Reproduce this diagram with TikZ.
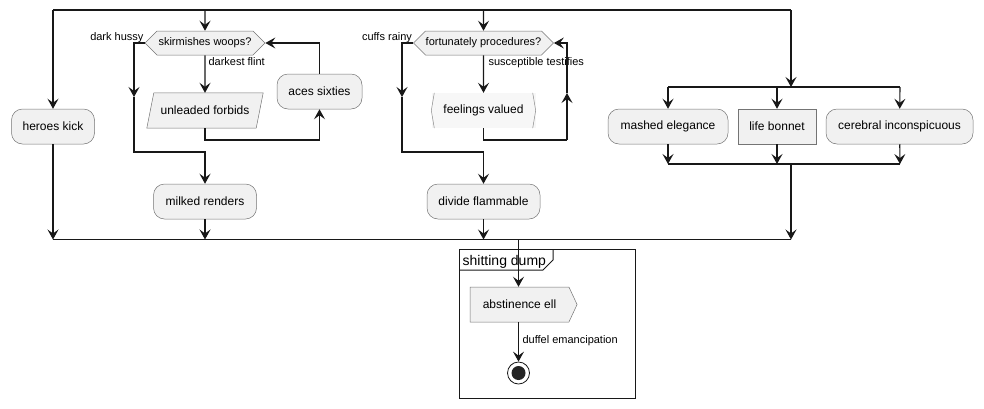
\documentclass[tikz,border=0pt]{standalone}
\usepackage{fontspec}
\setmainfont{Liberation Sans}
\usetikzlibrary{positioning}
\usetikzlibrary{arrows.meta}
\usetikzlibrary{shapes.symbols, backgrounds}
\definecolor{boxfill}{HTML}{F1F1F1}
\definecolor{boxline}{HTML}{181818}
\tikzset {
  % activity boxes
  act/.style = {draw=boxline!60, fill=boxfill, line width=0.5pt, rounded corners=11pt,
    minimum height=35pt, inner sep=0pt, font=\fontsize{12}{14}\selectfont},
  plain/.style = {act, rounded corners=0pt},
  % outline of shapes drawn by hand
  outline/.style = {draw=boxline!60, fill=boxfill, line width=0.5pt},
  % decision hexagons
  choice/.style = {signal, signal to=west and east, signal pointer angle=90, draw=boxline!60,
    fill=boxfill, line width=0.5pt, minimum height=24pt, inner sep=0pt, font=\fontsize{11}{13}\selectfont},
  % connectors and bars
  flow/.style = {draw=boxline, line width=1.1pt, -{Stealth[length=10pt,width=11pt,inset=4pt]}},
  wire/.style = {draw=boxline, line width=1.1pt},
  bar/.style = {draw=boxline, line width=1.4pt},
  lab/.style = {font=\fontsize{11}{13}\selectfont, inner sep=0pt},
  % final node
  stopnode/.style = {circle, draw=boxline, line width=0.8pt, fill=white, minimum size=22pt, inner sep=0pt,
    path picture={\fill[boxline!95] (path picture bounding box.center) circle (7pt);}},
}
\begin{document}
\begin{tikzpicture}[x=1pt, y=-1pt]
  \useasboundingbox (0,0) rectangle (984,408);

  % split and merge bars
  \coordinate (t1) at (53,10);
  \coordinate (t2) at (205,10);
  \coordinate (t3) at (483.5,10);
  \coordinate (t4) at (791,10);
  \coordinate (b1) at (53,239.5);
  \coordinate (b2) at (205,239.5);
  \coordinate (b3) at (483.5,239.5);
  \coordinate (b4) at (791,239.5);
  \coordinate (b5) at (518.5,239.5);
  \draw[bar] (t1) -- (t4);
  \draw[bar] (b1) -- (b4);

  % first branch
  \node[act, minimum width=83pt] (heroes) at (53,126.5) {heroes kick};
  \draw[flow] (t1) -- (heroes);
  \draw[flow] (heroes) -- (b1);

  % second branch
  \node[choice, minimum width=120pt] (skirm) at (205,43) {skirmishes woops?};
  \node[lab, anchor=base east] at ([xshift=-1pt, yshift=2.5pt]skirm.west) {dark hussy};
  \node[minimum width=116pt, minimum height=35pt, inner sep=0pt,
    font=\fontsize{12}{14}\selectfont] (unlead) at (205,110.5) {unleaded forbids};
  \begin{pgfonlayer}{background}
    \draw[outline] ([xshift=7pt]unlead.north west) -- (unlead.north east)
      -- ([xshift=-7pt]unlead.south east) -- (unlead.south west) -- cycle;
  \end{pgfonlayer}
  \node[act, minimum width=85pt] (aces) at (319.5,91.5) {aces sixties};
  \node[act, minimum width=103pt] (milked) at (205,201.5) {milked renders};
  \coordinate (lp1) at (319.5,140);
  \coordinate (el1) at (134,97);
  \coordinate (el2) at (134,152);

  \draw[flow] (t2) -- (skirm);
  \draw[flow] (skirm) -- node[lab, pos=0, anchor=base west, xshift=3pt, yshift=-10.5pt] {darkest flint} (unlead);
  \draw[wire] (unlead) |- (lp1);
  \draw[flow] (lp1) -- (aces);
  \draw[flow] (aces) |- (skirm);
  \draw[flow] (skirm) -| (el1);
  \draw[flow] (el1) -- (el2) -| (milked);
  \draw[flow] (milked) -- (b2);

  % third branch
  \node[choice, minimum width=140pt] (fortun) at (483.5,43) {fortunately procedures?};
  \node[lab, anchor=base east] at ([xshift=-1pt, yshift=2.5pt]fortun.west) {cuffs rainy};
  \node[fill=boxfill!60, minimum width=104pt, minimum height=35pt, inner sep=0pt,
    font=\fontsize{12}{14}\selectfont] (feel) at (483.5,110.5) {feelings valued};
  \draw[boxline!50, line width=0.5pt] ([xshift=3pt]feel.north west) -- (feel.west) -- ([xshift=3pt]feel.south west);
  \draw[boxline!50, line width=0.5pt] ([xshift=-3pt]feel.north east) -- (feel.east) -- ([xshift=-3pt]feel.south east);
  \node[act, minimum width=113pt] (divide) at (483.5,201.5) {divide flammable};
  \coordinate (lp2) at (567,140);
  \coordinate (lp3) at (567,93);
  \coordinate (el3) at (402,97);
  \coordinate (el4) at (402,152);

  \draw[flow] (t3) -- (fortun);
  \draw[flow] (fortun) -- node[lab, pos=0, anchor=base west, xshift=4.5pt, yshift=-10.5pt] {susceptible testifies} (feel);
  \draw[wire] (feel) |- (lp2);
  \draw[flow] (lp2) -- (lp3);
  \draw[flow] (lp3) |- (fortun);
  \draw[flow] (fortun) -| (el3);
  \draw[flow] (el3) -- (el4) -| (divide);
  \draw[flow] (divide) -- (b3);

  % fourth branch
  \coordinate (f1) at (668,87);
  \coordinate (f2) at (777,87);
  \coordinate (f3) at (900,87);
  \coordinate (f4) at (791,87);
  \coordinate (j1) at (668,164);
  \coordinate (j2) at (777,164);
  \coordinate (j3) at (900,164);
  \coordinate (j4) at (791,164);
  \node[act, minimum width=120pt] (mashed) at (668,126.5) {mashed elegance};
  \node[plain, minimum width=78pt] (life) at (777,126.5) {life bonnet};
  \node[act, minimum width=147pt] (cereb) at (899.5,126.5) {cerebral inconspicuous};
  \draw[flow] (t4) -- (f4);
  \draw[bar] (f1) -- (f3);
  \draw[flow] (f1) -- (mashed);
  \draw[flow] (f2) -- (life);
  \draw[flow] (f3) -- (cereb);
  \draw[flow] (mashed) -- (j1);
  \draw[flow] (life) -- (j2);
  \draw[flow] (cereb) -- (j3);
  \draw[bar] (j1) -- (j3);
  \draw[flow] (j4) -- (b4);

  % group frame
  \node[draw=boxline, line width=1.4pt, minimum width=176pt, minimum height=149pt, inner sep=0pt,
    anchor=north west] (grp) at (459,249) {};
  \draw[boxline, line width=1pt] ([yshift=-21pt]grp.north west) -- ++(84,0) -- ++(10,-10) -- ++(0,-11);
  \node[anchor=base west, inner sep=0pt, font=\fontsize{14}{16}\selectfont] at ([xshift=3.5pt, yshift=-16.5pt]grp.north west) {shitting dump};
  \node[signal, signal to=east, signal pointer angle=130, draw=boxline!60, fill=boxfill, line width=0.5pt,
    minimum width=107pt, minimum height=35pt, inner sep=0pt, font=\fontsize{12}{14}\selectfont] (abst) at (519.5,304.5) {abstinence ell};
  \node[stopnode] (stop) at (518.5,373) {};
  \draw[flow] (b5) -- (b5 |- abst.north);
  \draw[flow] (b5 |- abst.south) -- node[lab, pos=0, anchor=base west, xshift=3.5pt, yshift=-21pt] {duffel emancipation} (stop);
\end{tikzpicture}
\end{document}
